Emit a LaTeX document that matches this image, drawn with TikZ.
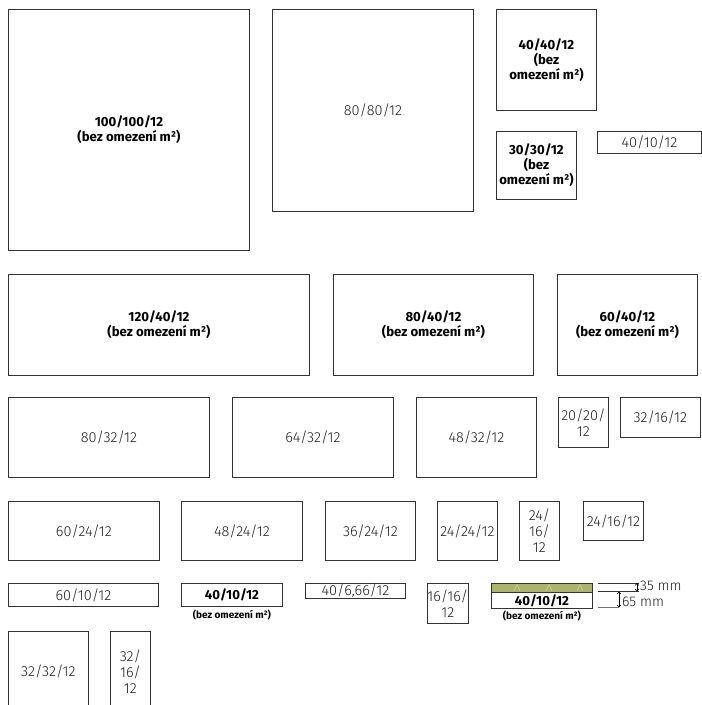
\documentclass[tikz,border=0pt]{standalone}
\usepackage{fontspec}
\setmainfont{Fira Sans}
\newfontfamily\lightsans{Fira Sans Light}
\usetikzlibrary{arrows.meta,positioning}
\definecolor{moss}{RGB}{170,180,106}

\begin{document}
\begin{tikzpicture}[x=1pt,y=-1pt,
  tile/.style={draw=black!80, line width=0.9pt, inner sep=0pt, anchor=north west,
    align=center, text=black!88, font=\lightsans\fontsize{14.5}{16}\selectfont},
  boldtile/.style={tile, text=black, font=\bfseries\fontsize{13.2}{15}\selectfont},
  wh/.style 2 args={minimum width=#1pt, minimum height=#2pt},
  note/.style={inner sep=0pt, font=\bfseries\fontsize{10}{11}\selectfont},
  dimline/.style={draw=black!80, line width=0.7pt},
  dimarrow/.style={draw=black, line width=0.6pt,
    {Straight Barb[length=2pt,width=3.5pt]}-{Straight Barb[length=2pt,width=3.5pt]}},
  dimtext/.style={anchor=west, inner sep=0pt, text=black!88,
    font=\lightsans\fontsize{14}{15}\selectfont}]
\useasboundingbox (0,0) rectangle (702,705);
\clip (0,0) rectangle (702,705);
%% Row 1: large squares
\node[boldtile, wh={241}{241}] (sq100) at (8,9) {100/100/12\\(bez omezení m²)};
\node[tile, wh={201}{202}] (sq80) at (272,9) {80/80/12};
\node[boldtile, wh={100}{101}] (sq40) at (496,9) {40/40/12\\(bez\\omezení m²)};
\node[boldtile, wh={80}{68}] (sq30) at (496,131) {30/30/12\\(bez\\omezení m²)};
\node[tile, wh={104}{22}] (st40a) at (597,131) {40/10/12};
%% Row 2: 40 cm high slabs
\node[boldtile, wh={301}{101}] (sl120) at (8,274) {120/40/12\\(bez omezení m²)};
\node[boldtile, wh={200}{101}] (sl80) at (333,274) {80/40/12\\(bez omezení m²)};
\node[boldtile, wh={140}{101}] (sl60) at (557,274) {60/40/12\\(bez omezení m²)};
%% Row 3: 32 cm high slabs
\node[tile, wh={201}{80}] (sl8032) at (8,397) {80/32/12};
\node[tile, wh={161}{80}] (sl6432) at (232,397) {64/32/12};
\node[tile, wh={120}{80}] (sl4832) at (416,397) {48/32/12};
\node[tile, wh={50}{50}] (sq20) at (558,397) {20/20/\\12};
\node[tile, wh={80}{40}] (sl3216) at (620,397) {32/16/12};
%% Row 4: 24 cm high slabs
\node[tile, wh={151}{59}] (sl6024) at (8,501) {60/24/12};
\node[tile, wh={121}{59}] (sl4824) at (181,501) {48/24/12};
\node[tile, wh={90}{59}] (sl3624) at (325,501) {36/24/12};
\node[tile, wh={60}{59}] (sq24) at (437,501) {24/24/12};
\node[tile, wh={40}{59}] (up2416) at (519,501) {24/\\16/\\12};
\node[tile, wh={60}{39}] (sl2416) at (583,501) {24/16/12};
%% Row 5: strips
\node[tile, wh={150}{23}] (st60) at (8,583) {60/10/12};
\node[boldtile, wh={101}{23}] (st40b) at (181,583) {40/10/12};
\node[note, below=3pt of st40b] (st40bnote) {(bez omezení m²)};
\node[tile, wh={100}{15}] (st40c) at (305,583) {40/6,66/12};
\node[tile, wh={40}{40}] (sq16) at (427,583) {16/16/\\12};
%% Strip with green top layer
\node[draw=black!80, line width=0.9pt, fill=moss, inner sep=0pt, anchor=north west,
  wh={101}{9}] (layer) at (491,583) {};
\foreach \gx in {517,549,580}
  \draw[moss!55!white, line width=0.5pt] (\gx-3,591) -- (\gx,584.5) -- (\gx+3,591);
\node[boldtile, wh={101}{16}] (st40d) at (491,592) {40/10/12};
\node[note, below=2pt of st40d] (st40dnote) {(bez omezení m²)};
%% Dimensions of the layered strip
\coordinate (da) at (598,583);
\coordinate (db) at (639,583);
\coordinate (dc) at (598,591.5);
\coordinate (dd) at (639,591.5);
\coordinate (de) at (598,607.5);
\coordinate (df) at (619,607.5);
\draw[dimline] (da) -- (db);
\draw[dimline] (dc) -- (dd);
\draw[dimline, draw=black!55] (de) -- (df);
\draw[dimarrow] (637,583) -- (637,591.5);
\draw[dimarrow] (df |- dc) -- (df);
\node[dimtext] (dim35) at (640,586) {35 mm};
\node[dimtext] (dim65) at (622,601.5) {65 mm};
%% Row 6: cut off at the bottom
\node[tile, wh={80}{80}] (sq32) at (8,631) {32/32/12};
\node[tile, wh={40}{80}] (up3216) at (110,631) {32/\\16/\\12};
\end{tikzpicture}
\end{document}
